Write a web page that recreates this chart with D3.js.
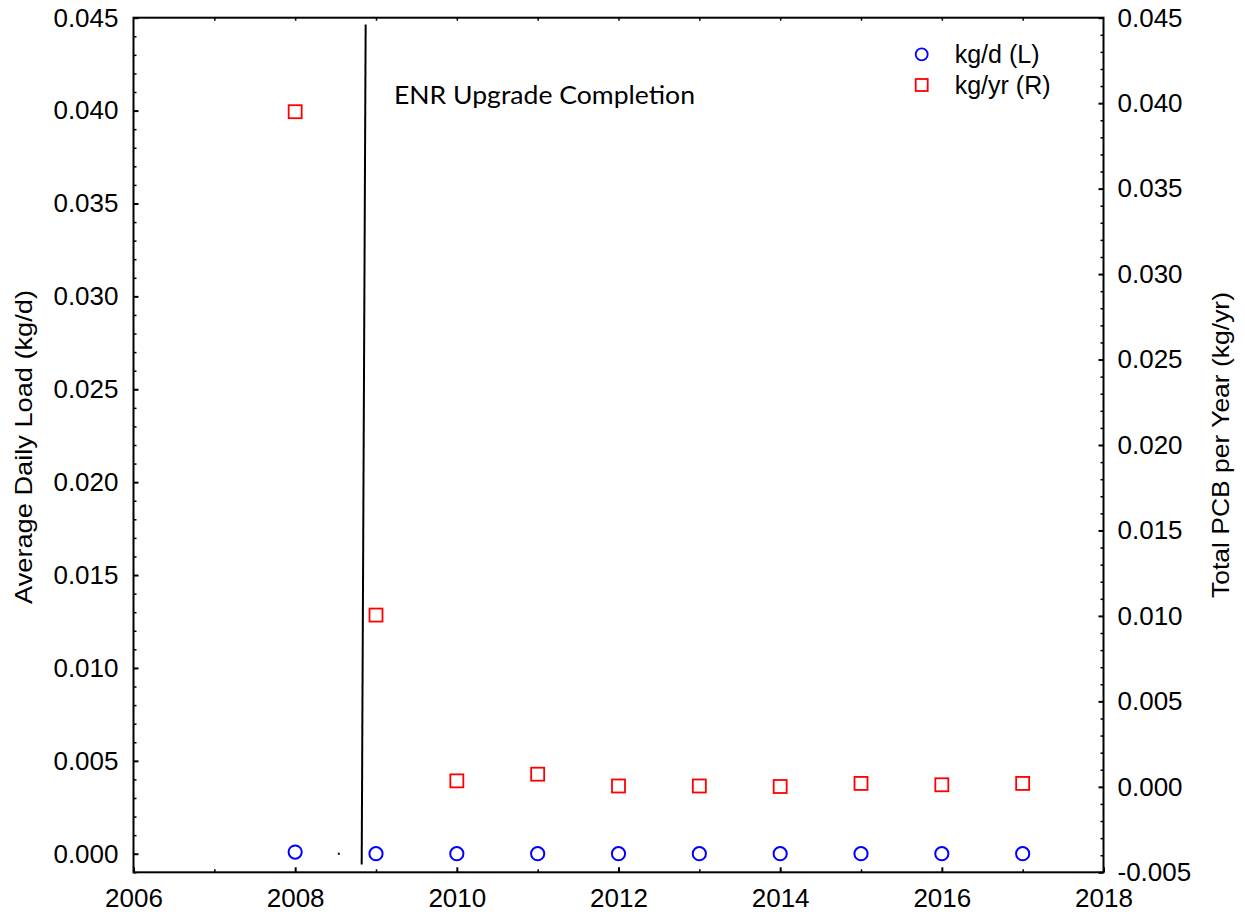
<!DOCTYPE html>
<html>
  <head>
    <meta charset="utf-8" />
    <script src="https://cdn.jsdelivr.net/npm/d3@7"></script>
    <style>
      body,
      html {
        margin: 0;
        background: #fff;
        font-family: "Liberation Sans", Arial, sans-serif;
        overflow: hidden;
      }
    </style>
    <title>PCB Load</title>
  </head>
  <body>
    <svg id="chart" width="1245" height="914"></svg>
    <script>
      // data
      var years = [2008, 2009, 2010, 2011, 2012, 2013, 2014, 2015, 2016, 2017];
      var kgPerDay = [0.00009, 0, 0, 0, 0, 0, 0, 0, 0, 0];
      var kgPerYear = [0.0395, 0.01005, 0.00035, 0.00074, 0.00005, 0.00005, 0.00002, 0.0002, 0.00012, 0.0002];
      var xTicks = [2006, 2008, 2010, 2012, 2014, 2016, 2018];
      var leftTicks = [0, 0.005, 0.01, 0.015, 0.02, 0.025, 0.03, 0.035, 0.04, 0.045];
      var rightTicks = [-0.005, 0, 0.005, 0.01, 0.015, 0.02, 0.025, 0.03, 0.035, 0.04, 0.045];
      var enrLine = [
        { year: 2008.872, v: 0.04464 },
        { year: 2008.823, v: -0.00058 },
      ];
      var strayDot = { year: 2008.54, v: 0 };

      var svg = d3.select("#chart");
      var padL = 133.5,
        padR = 1103.5,
        padT = 17.7,
        padB = 872.3;

      var x = d3.scaleLinear().domain([2006, 2018]).range([padL, padR]);
      var yL = d3.scaleLinear().domain([-0.001, 0.045]).range([padB, padT]);
      var yR = d3.scaleLinear().domain([-0.005, 0.045]).range([padB, padT]);

      // plain hyphen for negatives, like the original
      var fmt = d3.formatLocale({ decimal: ".", thousands: ",", grouping: [3], currency: ["", ""], minus: "-" }).format(".3f");
      var tickFont = 26;

      // minor ticks
      function minor(axis, scale, vals, t) {
        svg
          .append("g")
          .attr("transform", t)
          .call(axis(scale).tickValues(vals).tickSize(-3).tickFormat(""))
          .call((g) => g.select(".domain").remove())
          .selectAll("line")
          .attr("stroke-width", 1.5);
      }
      var oddYears = d3.range(2007, 2018, 2);
      var leftMinor = d3.range(-1, 46).map((d) => d / 1000).filter((d) => Math.round(d * 1000) % 5 != 0);
      var rightMinor = d3.range(-5, 46).map((d) => d / 1000).filter((d) => Math.round(d * 1000) % 5 != 0);

      minor(d3.axisBottom, x, oddYears, "translate(0," + padB + ")");
      minor(d3.axisTop, x, d3.range(2007, 2018), "translate(0," + padT + ")");
      minor(d3.axisLeft, yL, leftMinor, "translate(" + padL + ",0)");
      minor(d3.axisRight, yR, rightMinor, "translate(" + padR + ",0)");

      // frame
      svg
        .append("rect")
        .attr("x", padL)
        .attr("y", padT)
        .attr("width", padR - padL)
        .attr("height", padB - padT)
        .attr("fill", "none")
        .attr("stroke", "#000")
        .attr("stroke-width", 2);

      var xAxis = svg
        .append("g")
        .attr("transform", "translate(0," + padB + ")")
        .call(d3.axisBottom(x).tickValues(xTicks).tickSize(-5).tickPadding(16).tickFormat(d3.format("d")));
      var lAxis = svg
        .append("g")
        .attr("transform", "translate(" + padL + ",0)")
        .call(d3.axisLeft(yL).tickValues(leftTicks).tickSize(-5).tickPadding(15).tickFormat(fmt));
      var rAxis = svg
        .append("g")
        .attr("transform", "translate(" + padR + ",0)")
        .call(d3.axisRight(yR).tickValues(rightTicks).tickSize(-5).tickPadding(14).tickFormat(fmt));

      [xAxis, lAxis, rAxis].forEach(function (g) {
        g.select(".domain").remove();
        g.selectAll("line").attr("stroke-width", 2);
        g.attr("font-family", "Liberation Sans, Arial, sans-serif").attr("font-size", tickFont);
        g.selectAll("text").attr("fill", "#000");
      });

      // axis titles
      svg
        .append("text")
        .attr("transform", "translate(32,447) rotate(-90)")
        .attr("text-anchor", "middle")
        .attr("font-size", 24)
        .attr("textLength", 314)
        .attr("lengthAdjust", "spacingAndGlyphs")
        .text("Average Daily Load (kg/d)");
      svg
        .append("text")
        .attr("transform", "translate(1229,445) rotate(-90)")
        .attr("text-anchor", "middle")
        .attr("font-size", 24)
        .attr("textLength", 306)
        .attr("lengthAdjust", "spacingAndGlyphs")
        .text("Total PCB per Year (kg/yr)");

      // ENR upgrade line + label
      svg
        .append("path")
        .datum(enrLine)
        .attr("fill", "none")
        .attr("stroke", "#000")
        .attr("stroke-width", 2)
        .attr(
          "d",
          d3
            .line()
            .x((d) => x(d.year))
            .y((d) => yL(d.v))
        );
      svg
        .append("rect")
        .attr("x", x(strayDot.year) - 1)
        .attr("y", yL(strayDot.v) - 1)
        .attr("width", 2)
        .attr("height", 2)
        .attr("fill", "#000");
      svg
        .append("text")
        .attr("x", 394)
        .attr("y", 104)
        .attr("font-family", "Lato, 'Open Sans', sans-serif")
        .attr("font-size", 25)
        .attr("textLength", 301)
        .attr("lengthAdjust", "spacingAndGlyphs")
        .attr("fill", "#000")
        .text("ENR Upgrade Completion");

      // series
      svg
        .append("g")
        .selectAll("circle")
        .data(years)
        .enter()
        .append("circle")
        .attr("cx", (d) => x(d))
        .attr("cy", (d, i) => yL(kgPerDay[i]))
        .attr("r", 6.6)
        .attr("fill", "none")
        .attr("stroke", "#0000ff")
        .attr("stroke-width", 2);

      svg
        .append("g")
        .selectAll("rect")
        .data(years)
        .enter()
        .append("rect")
        .attr("x", (d) => x(d) - 6.5)
        .attr("y", (d, i) => yR(kgPerYear[i]) - 6.5)
        .attr("width", 13)
        .attr("height", 13)
        .attr("fill", "none")
        .attr("stroke", "#ff0000")
        .attr("stroke-width", 1.8);

      // legend
      var leg = svg.append("g").attr("transform", "translate(921.7,54.3)");
      leg.append("circle").attr("r", 6).attr("fill", "none").attr("stroke", "#0000ff").attr("stroke-width", 1.8);
      leg
        .append("rect")
        .attr("x", -6)
        .attr("y", 24.7)
        .attr("width", 12)
        .attr("height", 12)
        .attr("fill", "none")
        .attr("stroke", "#ff0000")
        .attr("stroke-width", 1.8);
      leg.append("text").attr("x", 33).attr("y", 9).attr("font-size", 25).text("kg/d (L)");
      leg.append("text").attr("x", 33).attr("y", 40).attr("font-size", 25).text("kg/yr (R)");
    </script>
  </body>
</html>
